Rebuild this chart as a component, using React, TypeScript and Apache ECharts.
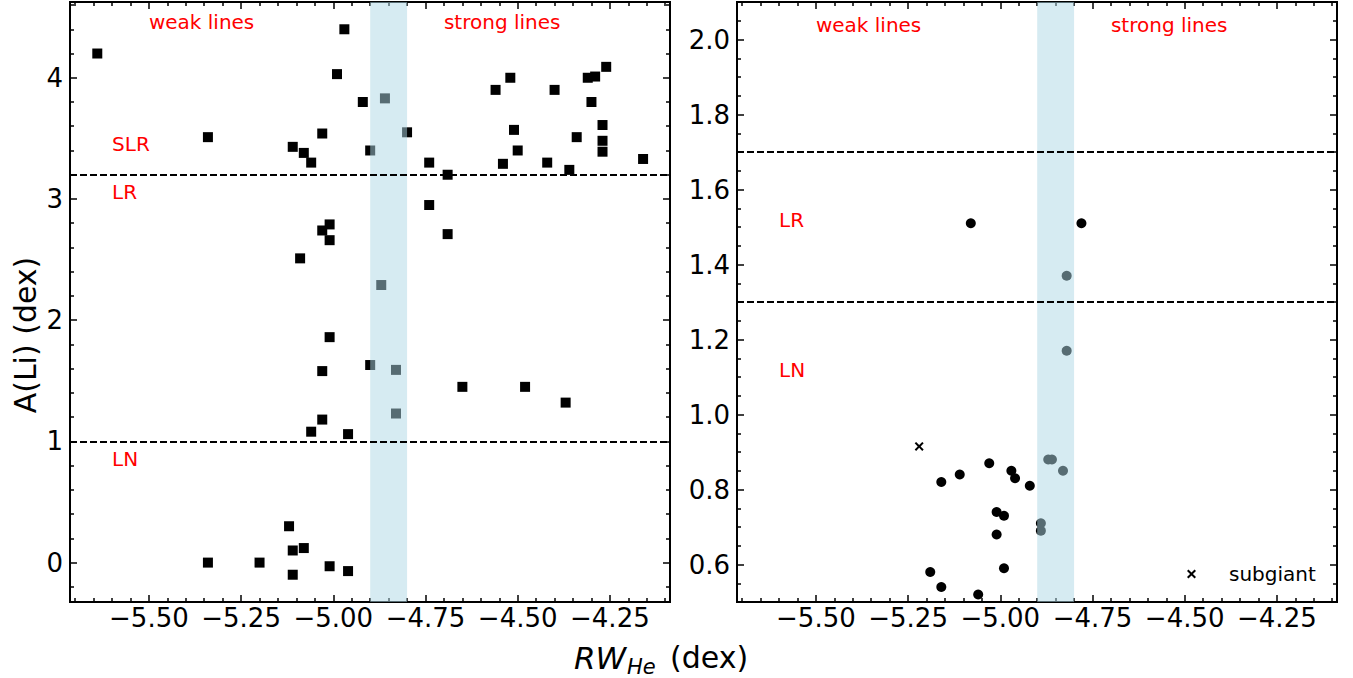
import React, { useEffect, useRef } from 'react';
import * as echarts from 'echarts';

const FONT = 'DejaVu Sans';

// Axis ranges and ticks
const X_MIN = -5.714;
const X_MAX = -4.087;
const LEFT_Y_MIN = -0.325;
const LEFT_Y_MAX = 4.625;
const RIGHT_Y_MIN = 0.5;
const RIGHT_Y_MAX = 2.1;
const X_MAJOR = [-5.5, -5.25, -5.0, -4.75, -4.5, -4.25];
const X_MINOR = [-5.7, -5.65, -5.6, -5.55, -5.45, -5.4, -5.35, -5.3, -5.2, -5.15, -5.1, -5.05, -4.95, -4.9, -4.85, -4.8, -4.7, -4.65, -4.6, -4.55, -4.45, -4.4, -4.35, -4.3, -4.2, -4.15, -4.1];
const LEFT_Y_MAJOR = [0, 1, 2, 3, 4];
const LEFT_Y_MINOR = [-0.2, 0.2, 0.4, 0.6, 0.8, 1.2, 1.4, 1.6, 1.8, 2.2, 2.4, 2.6, 2.8, 3.2, 3.4, 3.6, 3.8, 4.2, 4.4, 4.6];
const RIGHT_Y_MAJOR = [0.6, 0.8, 1.0, 1.2, 1.4, 1.6, 1.8, 2.0];
const RIGHT_Y_MINOR = [0.55, 0.65, 0.7, 0.75, 0.85, 0.9, 0.95, 1.05, 1.1, 1.15, 1.25, 1.3, 1.35, 1.45, 1.5, 1.55, 1.65, 1.7, 1.75, 1.85, 1.9, 1.95, 2.05];

// Left panel data (squares)
const LEFT_RW = [-5.64, -4.97, -4.99, -4.92, -4.86, -5.34, -5.03, -5.11, -5.08, -5.06, -4.90, -5.01, -5.03, -5.01, -5.09, -4.87, -4.80, -4.74, -4.69, -4.74, -4.69, -4.56, -4.52, -4.51, -4.50, -4.54, -4.40, -4.42, -4.36, -4.34, -4.31, -4.29, -4.26, -4.30, -4.27, -4.27, -4.27, -4.16, -5.01, -5.03, -4.90, -4.83, -4.83, -5.03, -5.06, -4.96, -5.12, -5.11, -5.08, -5.11, -5.34, -5.20, -5.01, -4.96, -4.65, -4.48, -4.37];
const LEFT_ALI = [4.20, 4.40, 4.03, 3.80, 3.83, 3.51, 3.54, 3.43, 3.38, 3.30, 3.40, 2.79, 2.74, 2.66, 2.51, 2.29, 3.55, 3.30, 3.20, 2.95, 2.71, 3.90, 4.00, 3.57, 3.40, 3.29, 3.90, 3.30, 3.24, 3.51, 4.00, 4.01, 4.09, 3.80, 3.61, 3.48, 3.39, 3.33, 1.86, 1.58, 1.63, 1.59, 1.23, 1.18, 1.08, 1.06, 0.30, 0.10, 0.12, -0.10, 0.00, 0.00, -0.03, -0.07, 1.45, 1.45, 1.32];

// Right panel data (circles)
const RIGHT_RW = [-5.08, -4.78, -4.82, -4.82, -4.87, -4.86, -4.83, -4.89, -4.89, -4.92, -5.16, -5.11, -5.03, -4.97, -4.96, -5.01, -4.99, -5.01, -4.99, -5.19, -5.16, -5.06];
const RIGHT_ALI = [1.51, 1.51, 1.37, 1.17, 0.88, 0.88, 0.85, 0.71, 0.69, 0.81, 0.82, 0.84, 0.87, 0.85, 0.83, 0.74, 0.73, 0.68, 0.59, 0.58, 0.54, 0.52];
const SUBGIANT_RW = [-5.22];
const SUBGIANT_ALI = [0.915];

// Reference levels and band
const LEFT_LEVELS = [3.2, 1.0];
const RIGHT_LEVELS = [1.7, 1.3];
const BAND = [-4.9, -4.8];

const LEFT_NOTES = [
  { text: 'weak lines', x: -5.5, y: 4.4 },
  { text: 'strong lines', x: -4.7, y: 4.4 },
  { text: 'SLR', x: -5.6, y: 3.4 },
  { text: 'LR', x: -5.6, y: 3.0 },
  { text: 'LN', x: -5.6, y: 0.8 },
];
const RIGHT_NOTES = [
  { text: 'weak lines', x: -5.5, y: 2.02 },
  { text: 'strong lines', x: -4.7, y: 2.02 },
  { text: 'LR', x: -5.6, y: 1.5 },
  { text: 'LN', x: -5.6, y: 1.1 },
];

const CROSS = 'path://M1.6,0L5,3.4L8.4,0L10,1.6L6.6,5L10,8.4L8.4,10L5,6.6L1.6,10L0,8.4L3.4,5L0,1.6Z';

const fmtX = (v: number) => (v < 0 ? '\u2212' : '') + Math.abs(v).toFixed(2);

function makeAxes(dim: 'x' | 'y', gridIndex: number, min: number, max: number, major: number[], minor: number[], fmt: (v: number) => string) {
  const sides = dim === 'x' ? ['bottom', 'top'] : ['left', 'right'];
  const out: any[] = [];
  sides.forEach((pos, si) => {
    [true, false].forEach((isMajor) => {
      out.push({
        type: 'value',
        gridIndex,
        position: pos,
        min,
        max,
        axisLine: { show: false, onZero: false },
        splitLine: { show: false },
        axisTick: {
          show: true,
          inside: true,
          length: isMajor ? 7 : 4,
          lineStyle: { color: '#000', width: 1.5 },
          customValues: isMajor ? major : minor,
        },
        axisLabel: {
          show: si === 0 && isMajor,
          customValues: major,
          formatter: fmt,
          fontSize: 26,
          fontFamily: FONT,
          color: '#000',
          margin: dim === 'x' ? 3 : 7,
        },
      });
    });
  });
  return out;
}

export default function App() {
  const ref = useRef<HTMLDivElement>(null);
  useEffect(() => {
    if (!ref.current) return;
    const chart = echarts.init(ref.current, undefined, { renderer: 'svg' });
    const leftData = LEFT_RW.map((x, i) => [x, LEFT_ALI[i]]);
    const rightData = RIGHT_RW.map((x, i) => [x, RIGHT_ALI[i]]);
    const subData = SUBGIANT_RW.map((x, i) => [x, SUBGIANT_ALI[i]]);
    const bandArea = {
      silent: true,
      z: 3,
      itemStyle: { color: 'rgba(173,216,230,0.5)' },
      label: { show: false },
      data: [[{ xAxis: BAND[0] }, { xAxis: BAND[1] }]],
    };
    const mkLines = (levels: number[]) => ({
      silent: true,
      z: 5,
      symbol: ['none', 'none'],
      label: { show: false },
      lineStyle: { color: '#000', type: [7, 3], width: 2 },
      data: levels.map((v) => ({ yAxis: v })),
    });
    const option: any = {
      animation: false,
      grid: [
        { left: 70, top: 2, width: 600, height: 600, show: true, borderColor: '#000', borderWidth: 2, backgroundColor: 'transparent' },
        { left: 737, top: 2, width: 600, height: 600, show: true, borderColor: '#000', borderWidth: 2, backgroundColor: 'transparent' },
      ],
      xAxis: [
        ...makeAxes('x', 0, X_MIN, X_MAX, X_MAJOR, X_MINOR, fmtX),
        ...makeAxes('x', 1, X_MIN, X_MAX, X_MAJOR, X_MINOR, fmtX),
      ],
      yAxis: [
        ...makeAxes('y', 0, LEFT_Y_MIN, LEFT_Y_MAX, LEFT_Y_MAJOR, LEFT_Y_MINOR, (v: number) => String(v)),
        ...makeAxes('y', 1, RIGHT_Y_MIN, RIGHT_Y_MAX, RIGHT_Y_MAJOR, RIGHT_Y_MINOR, (v: number) => v.toFixed(1)),
      ],
      legend: {
        data: ['subgiant'],
        left: 1187,
        top: 564,
        padding: 0,
        itemWidth: 9,
        itemHeight: 9,
        icon: CROSS,
        itemStyle: { color: '#000', opacity: 1 },
        textStyle: { fontSize: 20, fontFamily: FONT, color: '#000', padding: [0, 0, 0, 28] },
      },
      series: [
        {
          name: 'left', type: 'scatter', xAxisIndex: 0, yAxisIndex: 0, symbol: 'rect', symbolSize: 10,
          itemStyle: { color: '#000', opacity: 1 }, data: leftData, z: 2,
          markArea: bandArea, markLine: mkLines(LEFT_LEVELS),
        },
        {
          name: 'right', type: 'scatter', xAxisIndex: 4, yAxisIndex: 4, symbol: 'circle', symbolSize: 10,
          itemStyle: { color: '#000', opacity: 1 }, data: rightData, z: 2,
          markArea: bandArea, markLine: mkLines(RIGHT_LEVELS),
        },
        {
          name: 'subgiant', type: 'scatter', xAxisIndex: 4, yAxisIndex: 4, symbol: CROSS, symbolSize: 9,
          itemStyle: { color: '#000', opacity: 1 }, data: subData, z: 2,
        },
      ],
    };
    chart.setOption(option);

    const notes: any[] = [];
    const addNotes = (list: any[], seriesIndex: number) => {
      list.forEach((n) => {
        const p = chart.convertToPixel({ seriesIndex }, [n.x, n.y]) as number[];
        notes.push({
          type: 'text', x: p[0], y: p[1] - 6.9, z: 10,
          style: { text: n.text, fill: '#ff0000', font: `20px "${FONT}"`, align: 'left', verticalAlign: 'middle' },
        });
      });
    };
    addNotes(LEFT_NOTES, 0);
    addNotes(RIGHT_NOTES, 1);
    const titleFont = `30px "${FONT}"`;
    notes.push(
      { type: 'text', x: 574, y: 657.6, style: { text: 'RW', fill: '#000', font: `italic 31px "${FONT}"`, align: 'left', verticalAlign: 'middle' } },
      { type: 'text', x: 627, y: 666.7, style: { text: 'He', fill: '#000', font: `italic 21px "${FONT}"`, align: 'left', verticalAlign: 'middle' } },
      { type: 'text', x: 670, y: 657.6, style: { text: '(dex)', fill: '#000', font: titleFont, align: 'left', verticalAlign: 'middle' } },
      { type: 'text', x: 25, y: 335, rotation: Math.PI / 2, style: { text: 'A(Li) (dex)', fill: '#000', font: titleFont, align: 'center', verticalAlign: 'middle' } },
    );
    chart.setOption({ graphic: notes });
    return () => chart.dispose();
  }, []);
  return <div ref={ref} style={{ position: 'absolute', left: 0, top: 0, width: 1353, height: 678 }} />;
}
